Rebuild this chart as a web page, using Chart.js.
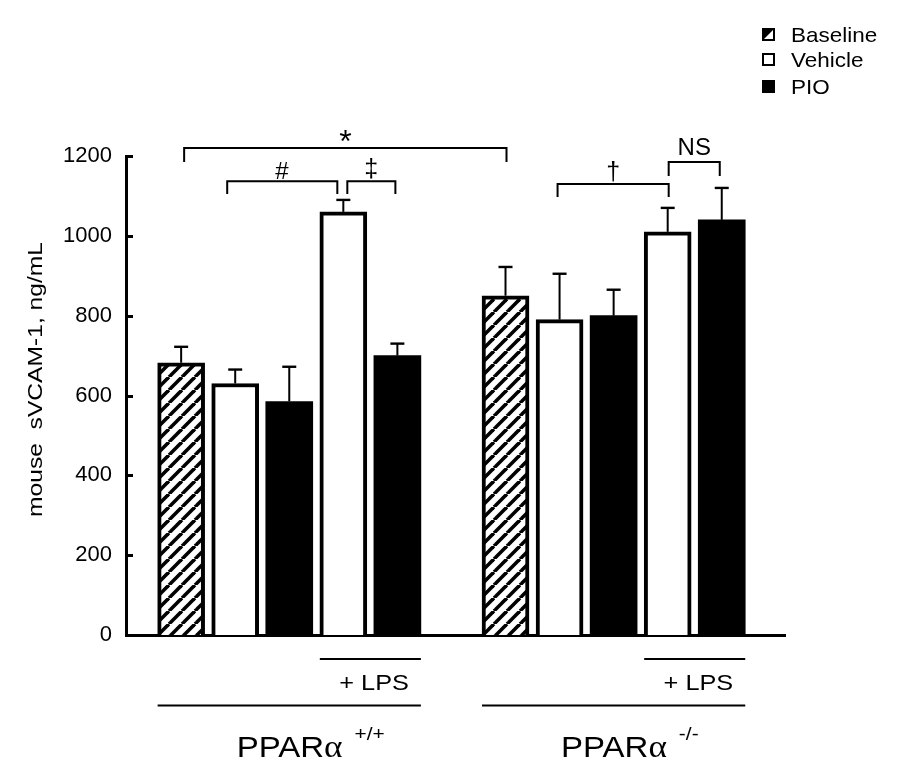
<!DOCTYPE html>
<html><head><meta charset="utf-8">
<script src="https://cdn.jsdelivr.net/npm/chart.js@4.4.1/dist/chart.umd.min.js"></script>
<style>html,body{margin:0;padding:0;background:#fff;}#wrap{width:897px;height:780px;}</style>
</head><body><div id="wrap"><canvas id="c" width="897" height="780"></canvas></div>
<script>
// ---------- data ----------
const genotypeLabels = ['+/+', '-/-'];
const treatments = ['Baseline', 'Vehicle', 'PIO', 'Vehicle', 'PIO'];
const lpsBars = [3, 4];
const wtMean = [682, 630, 585, 1060, 700];
const wtSE   = [40, 35, 87, 30, 30];
const koMean = [850, 790, 800, 1010, 1040];
const koSE   = [72, 115, 65, 60, 80];
const yTicks = [0, 200, 400, 600, 800, 1000, 1200];
const legendLabels = ['Baseline', 'Vehicle', 'PIO'];
const yTitle = 'mouse  sVCAM-1, ng/mL';
// significance brackets: bar indices (0..9) and levels in ng/mL
const bracketFrom  = [0, 1, 3, 6, 8];
const bracketTo    = [5, 3, 4, 8, 9];
const bracketLevel = [1220, 1137, 1137, 1130, 1185];
const bracketTip   = [1185, 1105, 1105, 1097, 1150];
const bracketText  = ['*', '#', '‡', '†', 'NS'];

// ---------- styling ----------
const FONT = '"Liberation Sans", Arial, sans-serif';
Chart.defaults.font.family = FONT;
Chart.defaults.color = '#000';
const bracketDx = [[3, 1], [-8, -6], [4, -2], [-2, 1], [1, -2]];
const bracketFont = [32, 24, 25, 25, 24];
const bracketTextGap = [12, 11, 13, 12, 15];

const canvas = document.getElementById('c');
const ctx0 = canvas.getContext('2d');
function makeHatch() {
  const P = 13, c = document.createElement('canvas');
  c.width = P; c.height = P;
  const x = c.getContext('2d');
  x.fillStyle = '#fff'; x.fillRect(0, 0, P, P);
  x.strokeStyle = '#000'; x.lineWidth = 3.6;
  for (const o of [-P, 0, P]) { x.beginPath(); x.moveTo(o, P); x.lineTo(o + P, 0); x.stroke(); }
  return ctx0.createPattern(c, 'repeat');
}
const hatch = makeHatch();
const fills = [hatch, '#fff', '#000'];
const borders = [4, 4, 0];

// bar slot positions derived from group/bar index (one empty slot between groups)
const slot = (g, i) => g * 6 + i;
const allMeans = [wtMean, koMean], allSE = [wtSE, koSE];
const datasets = legendLabels.map((name, t) => ({
  label: name, data: [], backgroundColor: fills[t], borderColor: '#000',
  borderWidth: borders[t], borderSkipped: 'start', barThickness: 47
}));
allMeans.forEach((means, g) => means.forEach((v, i) => {
  const t = legendLabels.indexOf(treatments[i]);
  datasets[t].data.push({ x: slot(g, i), y: v, se: allSE[g][i], bar: g * 5 + i });
}));

function txt(ctx, s, x, y, font, sx, align) {
  ctx.save(); ctx.font = font; ctx.fillStyle = '#000';
  ctx.textBaseline = 'alphabetic'; ctx.textAlign = 'left';
  const w = ctx.measureText(s).width * sx;
  const x0 = align === 'center' ? x - w / 2 : align === 'right' ? x - w : x;
  ctx.translate(x0, y); ctx.scale(sx, 1); ctx.fillText(s, 0, 0); ctx.restore();
  return w;
}
function inkCentered(ctx, s, cx, cy, font) {
  ctx.save(); ctx.font = font; ctx.fillStyle = '#000';
  ctx.textAlign = 'left'; ctx.textBaseline = 'alphabetic';
  const m = ctx.measureText(s);
  const inkL = -m.actualBoundingBoxLeft, inkR = m.actualBoundingBoxRight;
  const x = cx - (inkL + inkR) / 2;
  const y = cy + (m.actualBoundingBoxAscent - m.actualBoundingBoxDescent) / 2;
  ctx.fillText(s, x, y); ctx.restore();
}

const decor = {
  id: 'decor',
  afterDatasetsDraw(chart) {
    const ctx = chart.ctx, ys = chart.scales.y;
    ctx.save();
    ctx.strokeStyle = '#000'; ctx.lineWidth = 2;
    chart.data.datasets.forEach((ds, di) => {
      const meta = chart.getDatasetMeta(di);
      meta.data.forEach((el, j) => {
        const d = ds.data[j];
        const top = ys.getPixelForValue(d.y + d.se);
        ctx.beginPath(); ctx.moveTo(el.x, el.y); ctx.lineTo(el.x, top); ctx.stroke();
        ctx.lineWidth = 2.4;
        ctx.beginPath(); ctx.moveTo(el.x - 7, top); ctx.lineTo(el.x + 7, top); ctx.stroke();
        ctx.lineWidth = 2;
      });
    });
    ctx.restore();
  },
  afterDraw(chart) {
    const ctx = chart.ctx, xs = chart.scales.x, ys = chart.scales.y, ca = chart.chartArea;
    const barX = b => xs.getPixelForValue(slot(Math.floor(b / 5), b % 5));
    const half = 47 / 2;
    ctx.save();
    ctx.strokeStyle = '#000';
    // inward y ticks
    ctx.lineWidth = 3;
    yTicks.forEach(v => {
      if (v === 0) return;
      const p = Math.round(ys.getPixelForValue(v)) + 0.5;
      ctx.beginPath(); ctx.moveTo(ca.left, p); ctx.lineTo(ca.left + 7, p); ctx.stroke();
    });
    // brackets
    ctx.lineWidth = 2;
    bracketFrom.forEach((a, k) => {
      const xa = barX(a) + bracketDx[k][0], xb = barX(bracketTo[k]) + bracketDx[k][1];
      const yl = ys.getPixelForValue(bracketLevel[k]), yt = ys.getPixelForValue(bracketTip[k]);
      ctx.beginPath(); ctx.moveTo(xa, yt); ctx.lineTo(xa, yl); ctx.lineTo(xb, yl); ctx.lineTo(xb, yt); ctx.stroke();
      inkCentered(ctx, bracketText[k], (xa + xb) / 2, yl - bracketTextGap[k], bracketFont[k] + 'px ' + FONT);
    });
    // group annotations
    genotypeLabels.forEach((gl, g) => {
      const left = barX(g * 5) - half, right = barX(g * 5 + 4) + half;
      const lpsLeft = barX(g * 5 + lpsBars[0]) - half;
      ctx.lineWidth = 2;
      ctx.beginPath(); ctx.moveTo(lpsLeft, 659); ctx.lineTo(right, 659); ctx.stroke();
      ctx.beginPath(); ctx.moveTo(left, 705.5); ctx.lineTo(right, 705.5); ctx.stroke();
      txt(ctx, '+ LPS', right - 12, 690, '22px ' + FONT, 1.15, 'right');
      let x = left + 79;
      x += txt(ctx, 'PPAR', x, 757, '30px ' + FONT, 1.1, 'left');
      x += txt(ctx, 'α', x, 757, '32px "Liberation Serif", serif', 1.1, 'left');
      txt(ctx, gl, x + 12, 740, '19px ' + FONT, 1.1, 'left');
    });
    // y title
    ctx.save();
    ctx.translate(41.5, 379.5); ctx.rotate(-Math.PI / 2);
    ctx.font = '21px ' + FONT;
    const tw = ctx.measureText(yTitle).width;
    ctx.scale(275 / tw, 1);
    ctx.fillStyle = '#000'; ctx.textAlign = 'center'; ctx.textBaseline = 'alphabetic';
    ctx.fillText(yTitle, 0, 0);
    ctx.restore();
    // legend
    const ly = [34.5, 59.5, 86.5];
    legendLabels.forEach((name, t) => {
      const bx = 762, by = ly[t] - 6.5, s = 13;
      ctx.lineWidth = 2;
      if (t === 0) {
        ctx.fillStyle = '#000';
        ctx.beginPath(); ctx.moveTo(bx, by); ctx.lineTo(bx + s, by); ctx.lineTo(bx, by + s); ctx.closePath(); ctx.fill();
        ctx.strokeRect(bx + 1, by + 1, s - 2, s - 2);
      } else if (t === 1) {
        ctx.strokeRect(bx + 1, by + 1, s - 2, s - 2);
      } else {
        ctx.fillStyle = '#000'; ctx.fillRect(bx, by, s, s);
      }
      txt(ctx, name, 791, ly[t] + 7.5, '21px ' + FONT, 1.07, 'left');
    });
    ctx.restore();
  }
};

new Chart(canvas, {
  type: 'bar',
  data: { datasets },
  options: {
    responsive: false, animation: false, devicePixelRatio: 1, grouped: false,
    layout: { padding: { left: 0, right: 112, top: 156, bottom: 145 } },
    plugins: { legend: { display: false }, tooltip: { enabled: false } },
    scales: {
      x: {
        type: 'linear', min: -1.02, max: 11.17, offset: false,
        ticks: { display: false }, grid: { display: false, drawTicks: false, offset: false },
        border: { display: true, color: '#000', width: 3 },
        afterFit(s) { s.height = 0; }
      },
      y: {
        min: 0, max: 1200,
        afterBuildTicks(s) { s.ticks = yTicks.map(v => ({ value: v })); },
        ticks: { color: '#000', font: { size: 22 }, padding: 14, callback: v => String(v) },
        grid: { display: false, drawTicks: false },
        border: { display: true, color: '#000', width: 3 },
        afterFit(s) { s.width = 126; }
      }
    }
  },
  plugins: [decor]
});
</script></body></html>
